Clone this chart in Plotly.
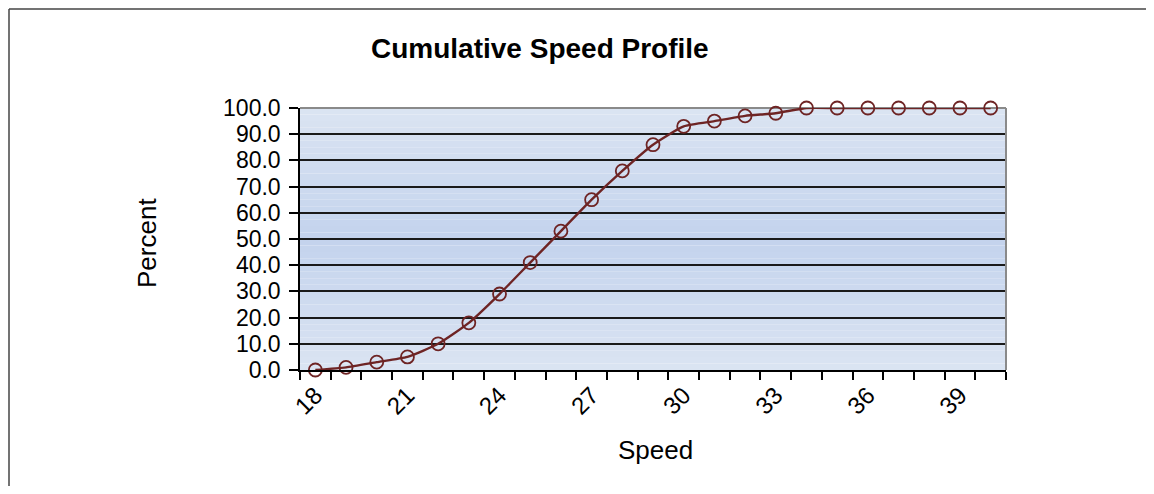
import plotly.graph_objects as go

speeds = list(range(18, 41))
percent = [0, 1, 3, 5, 10, 18, 29, 41, 53, 65, 76, 86, 93, 95, 97, 98,
           100, 100, 100, 100, 100, 100, 100]
y_ticks = [0, 10, 20, 30, 40, 50, 60, 70, 80, 90, 100]
x_label_vals = [18, 21, 24, 27, 30, 33, 36, 39]

OFF = 8  # page body margin
W, H = 1154 - 2 * OFF, 494 - 2 * OFF
SX0, SX1, SY0, SY1 = 300, 1006, 108, 370
L, T = SX0 - OFF, SY0 - OFF
R, B = W - (SX1 - OFF), H - (SY1 - OFF)
pw, ph = SX1 - SX0, SY1 - SY0

def px_x(p):
    return (p - SX0) / pw

def px_y(p):
    return (SY1 - p) / ph

FONT = "Liberation Sans, Arial, sans-serif"
LINE = "#6e2424"

fig = go.Figure()
fig.add_trace(go.Scatter(
    x=speeds, y=percent, mode="lines+markers",
    line=dict(color=LINE, width=2.4, shape="spline", smoothing=0.5),
    marker=dict(symbol="circle-open", size=13, color=LINE, line=dict(width=1.8, color=LINE)),
    showlegend=False, cliponaxis=False,
))

shapes = []
n = 40
top_c = (219, 228, 242)
mid_c = (195, 211, 237)
for i in range(n):
    f0, f1 = i / n, (i + 1) / n
    t = abs((f0 + f1) / 2 - 0.5) * 2
    c = tuple(int(round(mid_c[k] + (top_c[k] - mid_c[k]) * t)) for k in range(3))
    shapes.append(dict(type="rect", xref="x domain", yref="y domain",
                       x0=0, x1=1, y0=f0, y1=f1, layer="below",
                       line=dict(width=0), fillcolor="rgb(%d,%d,%d)" % c))
shapes.append(dict(type="line", xref="x domain", yref="y domain", x0=1, x1=1, y0=0, y1=1,
                   line=dict(color="#8a8a8a", width=2)))
shapes.append(dict(type="line", xref="x domain", yref="y domain", x0=0, x1=1, y0=1, y1=1,
                   line=dict(color="#8a8a8a", width=2), layer="below"))
# outer chart border: only left and top edges are visible in the frame
shapes.append(dict(type="line", xref="paper", yref="paper",
                   x0=px_x(9), x1=px_x(9), y0=px_y(520), y1=px_y(9),
                   line=dict(color="#444444", width=1.5)))
shapes.append(dict(type="line", xref="paper", yref="paper",
                   x0=px_x(9), x1=px_x(1200), y0=px_y(9), y1=px_y(9),
                   line=dict(color="#444444", width=1.5)))

fig.update_layout(
    width=W, height=H,
    margin=dict(l=L, r=R, t=T, b=B, autoexpand=False),
    paper_bgcolor="white", plot_bgcolor="rgba(0,0,0,0)",
    font=dict(family=FONT, color="black", size=22),
    shapes=shapes,
    annotations=[
        dict(text="<b>Cumulative Speed Profile</b>", xref="paper", yref="paper",
             x=px_x(540), y=px_y(48), showarrow=False, font=dict(size=28, family=FONT),
             xanchor="center", yanchor="middle"),
        dict(text="Percent", xref="paper", yref="paper", x=px_x(147), y=px_y(243),
             showarrow=False, textangle=-90, font=dict(size=26, family=FONT),
             xanchor="center", yanchor="middle"),
        dict(text="Speed", xref="paper", yref="paper", x=px_x(655), y=px_y(450),
             showarrow=False, font=dict(size=26, family=FONT),
             xanchor="center", yanchor="middle"),
    ],
)
fig.update_xaxes(
    range=[17.5, 40.5], tickmode="array", tickvals=x_label_vals,
    ticktext=[str(v) for v in x_label_vals], tickangle=-45, ticks="",
    showgrid=False, zeroline=False, showline=True, linecolor="black", linewidth=1.5,
    tickfont=dict(size=24, family=FONT),
    minor=dict(tickmode="linear", tick0=17.5, dtick=1, ticks="outside", ticklen=8,
               tickcolor="black", tickwidth=1.5, showgrid=False),
)
fig.update_yaxes(
    range=[0, 100], tickmode="array", tickvals=y_ticks,
    ticktext=["%.1f" % v for v in y_ticks], ticks="outside", ticklen=9,
    tickcolor="black", tickwidth=1.5, ticklabelstandoff=4,
    showgrid=True, gridcolor="#1a1a1a", gridwidth=1.5, zeroline=False,
    showline=True, linecolor="black", linewidth=1.5,
    tickfont=dict(size=23, family=FONT),
)

fig.write_html("out.html")
